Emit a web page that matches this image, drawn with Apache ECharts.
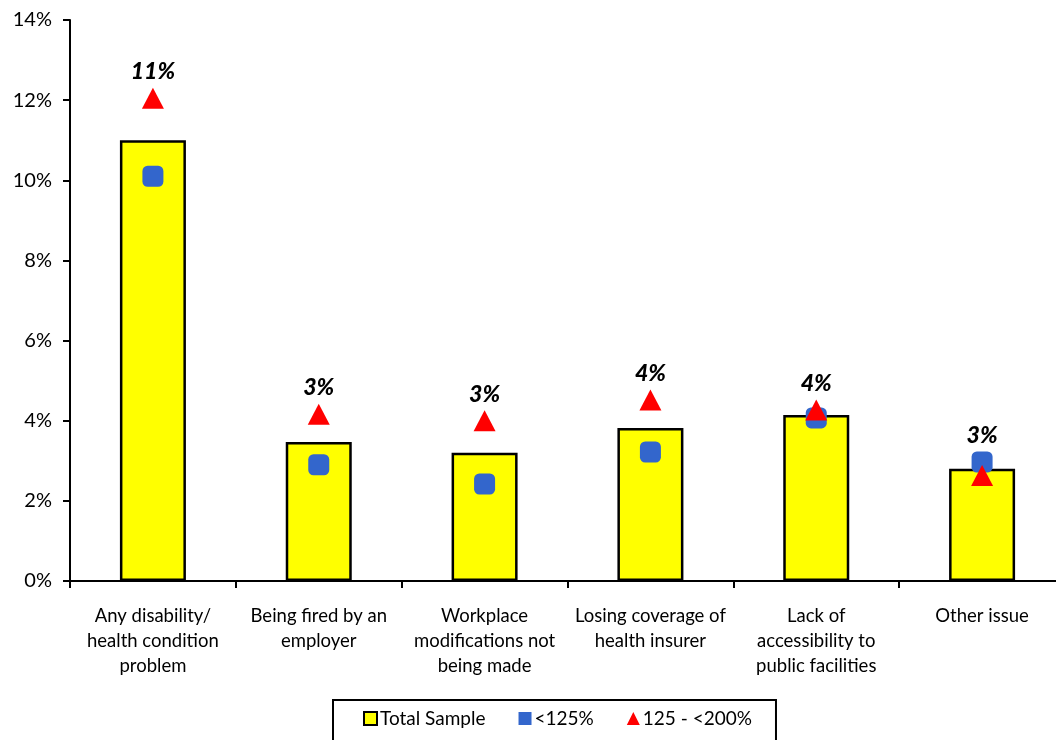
<!DOCTYPE html>
<html>
<head>
<meta charset="utf-8">
<script src="https://cdn.jsdelivr.net/npm/echarts@6/dist/echarts.min.js"></script>
<style>
  html, body { margin: 0; padding: 0; background: #fff; }
  #chart { width: 1056px; height: 740px; }
</style>
</head>
<body>
<div id="chart"></div>
<script>
// Reported issues, share of respondents (%)
const categories = [
  'Any disability/\nhealth condition\nproblem',
  'Being fired by an\nemployer',
  'Workplace\nmodifications not\nbeing made',
  'Losing coverage of\nhealth insurer',
  'Lack of\naccessibility to\npublic facilities',
  'Other issue'
];
const totalSample = [11.0, 3.47, 3.2, 3.82, 4.14, 2.8];
const below125 = [10.1, 2.9, 2.42, 3.22, 4.07, 2.97];
const from125to200 = [12.05, 4.16, 4.0, 4.52, 4.27, 2.63];
const yTicks = [0, 2, 4, 6, 8, 10, 12, 14];

const seriesNames = ['Total Sample', '<125%', '125 - <200%'];
const FONT = 'Lato, "Open Sans", sans-serif';

// Anchor for the value labels: just above the highest marker in each group
const labelAnchor = categories.map((_, i) =>
  Math.max(totalSample[i], below125[i], from125to200[i]));

const chart = echarts.init(document.getElementById('chart'));
chart.setOption({
  animation: false,
  backgroundColor: '#fff',
  textStyle: { fontFamily: FONT },
  grid: { left: 70, top: 20, width: 995, height: 561, outerBoundsMode: 'none' },
  legend: {
    data: [
      { name: seriesNames[0], icon: 'rect', itemStyle: { color: '#FFFF00', borderColor: '#000', borderWidth: 2 } },
      { name: seriesNames[1], icon: 'rect' },
      { name: seriesNames[2], icon: 'triangle' }
    ],
    left: 333,
    top: 700,
    padding: [9, 24, 14, 30],
    itemGap: 33,
    itemWidth: 13,
    itemHeight: 13,
    borderColor: '#000',
    borderWidth: 2,
    textStyle: { fontFamily: FONT, fontSize: 19, color: '#000', padding: [0, 0, 0, -2] }
  },
  xAxis: {
    type: 'category',
    data: categories,
    axisLine: { lineStyle: { color: '#000', width: 2 } },
    axisTick: { show: true, length: 7, lineStyle: { color: '#000', width: 2 } },
    axisLabel: {
      interval: 0,
      margin: 23,
      fontFamily: FONT,
      fontSize: 18.5,
      lineHeight: 25,
      color: '#000',
      align: 'center'
    }
  },
  yAxis: {
    type: 'value',
    min: yTicks[0],
    max: yTicks[yTicks.length - 1],
    interval: 2,
    splitLine: { show: false },
    axisLine: { show: true, lineStyle: { color: '#000', width: 2 } },
    axisTick: { show: true, length: 7, lineStyle: { color: '#000', width: 2 } },
    axisLabel: {
      margin: 18,
      fontFamily: FONT,
      fontSize: 20,
      color: '#000',
      formatter: v => v + '%'
    }
  },
  series: [
    {
      name: seriesNames[0],
      type: 'bar',
      data: totalSample,
      barWidth: 66,
      itemStyle: { color: '#FFFF00', borderColor: '#000', borderWidth: 2.5 },
      z: 2
    },
    {
      name: seriesNames[1],
      type: 'scatter',
      data: below125,
      symbol: 'roundRect',
      symbolSize: 21,
      itemStyle: { color: '#3366CC', opacity: 1 },
      z: 3
    },
    {
      name: seriesNames[2],
      type: 'scatter',
      data: from125to200,
      symbol: 'triangle',
      symbolSize: [22, 21],
      itemStyle: { color: '#FF0000', opacity: 1 },
      z: 4
    },
    {
      // value labels for the total sample
      name: 'labels',
      type: 'scatter',
      data: labelAnchor,
      symbolSize: 22,
      itemStyle: { color: 'rgba(255,255,255,0)' },
      silent: true,
      label: {
        show: true,
        position: 'top',
        distance: 4,
        fontFamily: FONT,
        fontSize: 23,
        fontWeight: 900,
        fontStyle: 'italic',
        color: '#000',
        opacity: 1
      },
      labelLayout: { hideOverlap: false },
      z: 5
    }
  ]
});
// label text comes from the total-sample values
chart.setOption({
  series: [{}, {}, {}, {
    label: { formatter: p => Math.round(totalSample[p.dataIndex]) + '%' }
  }]
});
</script>
</body>
</html>
